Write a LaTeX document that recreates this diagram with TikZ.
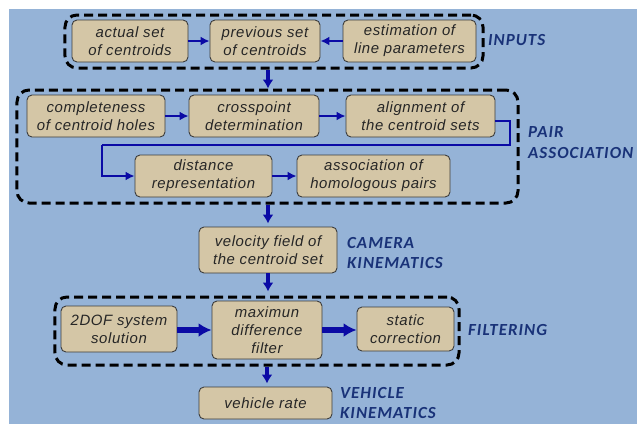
\documentclass[tikz,border=0pt]{standalone}
\usepackage{fontspec}
\usepackage{tikz}
\usetikzlibrary{arrows.meta,positioning,calc}

\newfontfamily\boxfont[LetterSpace=4]{Liberation Sans}
\newfontfamily\tagfont[LetterSpace=6]{Carlito}

\definecolor{panel}{RGB}{149,179,215}
\definecolor{stepfill}{RGB}{212,198,166}
\definecolor{stepline}{RGB}{60,60,60}
\definecolor{flow}{RGB}{10,10,165}
\definecolor{tagblue}{RGB}{25,50,120}

\tikzset{
  stepbox/.style={draw=stepline, fill=stepfill, line width=0.9bp, rounded corners=5bp,
                  align=center, inner sep=0pt, text=black!85,
                  font=\boxfont\itshape\fontsize{15}{18}\selectfont},
  groupbox/.style={draw=black, line width=3bp, dash pattern=on 9bp off 5bp,
                   rounded corners=12bp, inner sep=0pt},
  tag/.style={anchor=west, inner sep=0pt, align=left, text=tagblue,
              font=\tagfont\bfseries\itshape\fontsize{17}{21}\selectfont},
  conn/.style={draw=flow, line width=2.6bp, -{Latex[length=9bp,width=9bp]}},
  down/.style={draw=flow, line width=3.5bp, -{Latex[length=9bp,width=11bp]}},
  heavy/.style={draw=flow, line width=6bp, -{Latex[length=13bp,width=14bp]}}
}

\begin{document}
\begin{tikzpicture}[x=1bp, y=-1bp]
  % page and backdrop
  \useasboundingbox (0,0) rectangle (637,424);
  \fill[panel] (9,9) rectangle (637,424);

  % inputs
  \node[groupbox, minimum width=418bp, minimum height=53bp] (inputs) at (274,41.5) {};
  \node[stepbox, minimum width=116bp, minimum height=42bp] (actual) at (130,41) {actual set\\of centroids};
  \node[stepbox, minimum width=110bp, minimum height=42bp] (previous) at (265,41) {previous set\\of centroids};
  \node[stepbox, minimum width=133bp, minimum height=42bp] (estim) at (409.5,41) {estimation of\\line parameters};
  \node[tag] (inputslbl) at (488,40) {INPUTS};

  \draw[conn] (actual) -- (previous);
  \draw[conn] (estim) -- (previous);

  % pair association
  \node[groupbox, minimum width=501bp, minimum height=113bp] (pairs) at (267.5,146.5) {};
  \node[stepbox, minimum width=138bp, minimum height=42bp] (complete) at (96,116) {completeness\\of centroid holes};
  \node[stepbox, minimum width=130bp, minimum height=42bp] (cross) at (254,116) {crosspoint\\determination};
  \node[stepbox, minimum width=149bp, minimum height=42bp] (align) at (420.5,116) {alignment of\\the centroid sets};
  \node[stepbox, minimum width=137bp, minimum height=42bp] (dist) at (203.5,176) {distance\\representation};
  \node[stepbox, minimum width=153bp, minimum height=42bp] (assoc) at (373.5,176) {association of\\homologous pairs};
  \node[tag] (pairlbl) at (528,142.5) {PAIR\\ASSOCIATION};

  \coordinate (bendA) at (510,145);
  \coordinate (bendB) at (102,145);
  \draw[conn] (complete) -- (cross);
  \draw[conn] (cross) -- (align);
  \draw[conn, -] ([yshift=-5bp]align.east) -| (bendA) -- (bendB);
  \draw[conn] (bendB) |- (dist.west);
  \draw[conn] (dist) -- (assoc);

  % camera kinematics
  \node[stepbox, minimum width=138bp, minimum height=46bp] (velocity) at (268,250) {velocity field of\\the centroid set};
  \node[tag] (cameralbl) at (347,253) {CAMERA\\KINEMATICS};

  \draw[down] (inputs.south -| velocity.north) -- (pairs.north -| velocity.north);
  \draw[down, shorten >=3bp] (pairs.south -| velocity.north) -- (velocity.north);

  % filtering
  \node[groupbox, minimum width=404bp, minimum height=68bp] (filter) at (257,331) {};
  \node[stepbox, minimum width=116bp, minimum height=46bp] (dof) at (119,329) {2DOF system\\solution};
  \node[stepbox, minimum width=110bp, minimum height=58bp] (maxdiff) at (267,330) {maximun\\difference\\filter};
  \node[stepbox, minimum width=97bp, minimum height=44bp] (static) at (405.5,329) {static\\correction};
  \node[tag] (filterlbl) at (468,330) {FILTERING};

  \draw[heavy] (dof.east |- maxdiff) -- (maxdiff.west);
  \draw[heavy] (maxdiff.east) -- (static.west |- maxdiff);
  \draw[down, shorten >=4bp] (velocity.south) -- (filter.north -| velocity.south);

  % vehicle kinematics
  \node[stepbox, minimum width=133bp, minimum height=32bp] (vehicle) at (265.5,403) {vehicle rate};
  \node[tag] (vehiclelbl) at (340,403) {VEHICLE\\KINEMATICS};

  \draw[down, shorten >=3bp] (filter.south -| maxdiff) -- (vehicle.north -| maxdiff);
\end{tikzpicture}
\end{document}
